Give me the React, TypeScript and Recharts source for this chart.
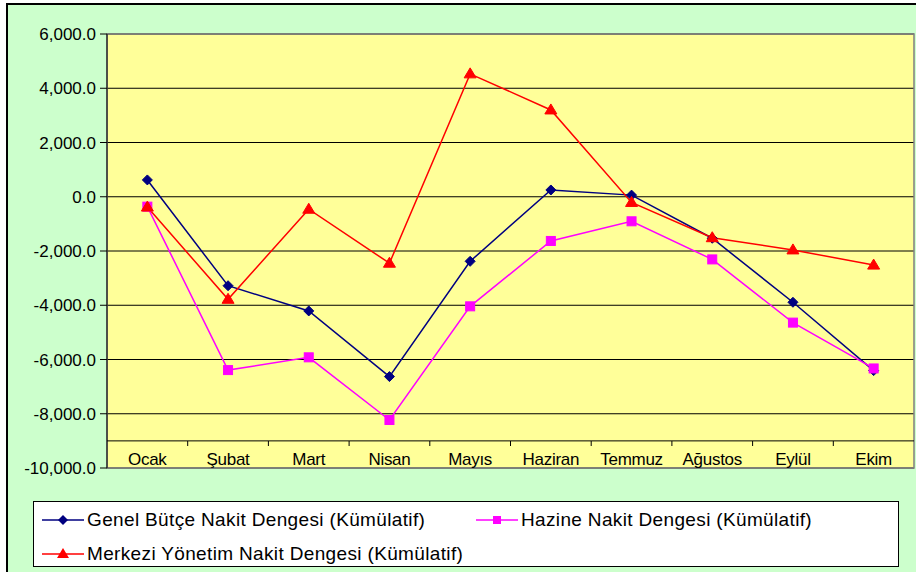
import React from 'react';
import { LineChart, Line, XAxis, YAxis, CartesianGrid, ReferenceLine, ReferenceArea, Legend } from 'recharts';

const months = ['Ocak', 'Şubat', 'Mart', 'Nisan', 'Mayıs', 'Haziran', 'Temmuz', 'Ağustos', 'Eylül', 'Ekim'];
const genelButce = [620, -3280, -4210, -6630, -2380, 250, 60, -1530, -3890, -6410];
const hazine = [-365, -6390, -5920, -8230, -4040, -1630, -905, -2310, -4640, -6330];
const merkezi = [-380, -3780, -460, -2450, 4530, 3200, -210, -1510, -1960, -2520];
const yTicks = [-10000, -8000, -6000, -4000, -2000, 0, 2000, 4000, 6000];

const seriesNames = {
  genel: 'Genel Bütçe Nakit Dengesi (Kümülatif)',
  hazine: 'Hazine Nakit Dengesi (Kümülatif)',
  merkezi: 'Merkezi Yönetim Nakit Dengesi (Kümülatif)',
};

const data = months.map((m, i) => ({ month: m, genel: genelButce[i], hazine: hazine[i], merkezi: merkezi[i] }));

const FONT = '"Liberation Sans", Arial, sans-serif';
const NAVY = '#000080';
const MAGENTA = '#FF00FF';
const RED = '#FF0000';

const fmt = (v: number) => v.toLocaleString('en-US', { minimumFractionDigits: 1, maximumFractionDigits: 1 });

const Diamond = (props: any) => {
  const { cx, cy } = props;
  if (cx == null || cy == null) return null;
  return <polygon points={`${cx},${cy - 5} ${cx + 5},${cy} ${cx},${cy + 5} ${cx - 5},${cy}`} fill={NAVY} stroke={NAVY} strokeWidth={1} />;
};
const Square = (props: any) => {
  const { cx, cy } = props;
  if (cx == null || cy == null) return null;
  return <rect x={cx - 4.5} y={cy - 4.5} width={9} height={9} fill={MAGENTA} stroke={MAGENTA} strokeWidth={1} />;
};
const Triangle = (props: any) => {
  const { cx, cy } = props;
  if (cx == null || cy == null) return null;
  return <polygon points={`${cx},${cy - 6} ${cx + 6},${cy + 4} ${cx - 6},${cy + 4}`} fill={RED} stroke={RED} strokeWidth={1} />;
};

const XTick = (props: any) => {
  const { x, y, payload, index } = props;
  const off = payload && payload.offset ? payload.offset : 0;
  return (
    <g>
      {index > 0 && <line x1={x - off} x2={x - off} y1={y - 27} y2={y - 22} stroke="#000" strokeWidth={1} />}
      <text x={x} y={y - 3} textAnchor="middle" fontFamily={FONT} fontSize={17} fill="#000" style={{ letterSpacing: '-0.3px' }}>
        {payload.value}
      </text>
    </g>
  );
};

const LegendMarker = ({ color, kind }: { color: string; kind: string }) => (
  <svg width={44} height={14} style={{ position: 'absolute', left: 0, top: -7 }}>
    <line x1={1} x2={43} y1={7} y2={7} stroke={color} strokeWidth={1.5} />
    {kind === 'diamond' && <polygon points="22,2 27,7 22,12 17,7" fill={color} />}
    {kind === 'square' && <rect x={18} y={3} width={8} height={8} fill={color} />}
    {kind === 'triangle' && <polygon points="22,1 28,11 16,11" fill={color} />}
  </svg>
);

const LegendItem = ({ left, top, color, kind, label }: any) => (
  <div style={{ position: 'absolute', left, top, height: 0 }}>
    <LegendMarker color={color} kind={kind} />
    <span style={{ position: 'absolute', left: 46, top: -12, whiteSpace: 'nowrap', fontFamily: FONT, fontSize: 19, lineHeight: '24px', color: '#000', letterSpacing: '0.35px' }}>
      {label}
    </span>
  </div>
);

const LegendContent = () => (
  <div style={{ position: 'relative', width: 866, height: 66, background: '#FFFFFF', border: '1px solid #000', boxSizing: 'border-box' }}>
    <LegendItem left={7} top={18} color={NAVY} kind="diamond" label={seriesNames.genel} />
    <LegendItem left={441} top={18} color={MAGENTA} kind="square" label={seriesNames.hazine} />
    <LegendItem left={7} top={52} color={RED} kind="triangle" label={seriesNames.merkezi} />
  </div>
);

export default function App() {
  return (
    <div style={{ position: 'absolute', left: 0, top: 0, width: 916, height: 572, overflow: 'hidden', background: '#FFFFFF' }}>
      <div style={{ position: 'absolute', left: 6, top: 3, width: 930, height: 600, background: '#CCFFCC', borderLeft: '2px solid #000', borderTop: '2px solid #000' }} />
      <div style={{ position: 'absolute', left: 0, top: 0 }}>
        <LineChart width={916} height={572} data={data} margin={{ top: 34, right: 2, left: 0, bottom: 74 }}>
          <CartesianGrid vertical={false} horizontal={true} stroke="#000" strokeOpacity={1} fill="#FFFF99" fillOpacity={1} />
          <ReferenceArea y1={-10000} y2={6000} fill="none" stroke="#808080" strokeWidth={1.5} ifOverflow="visible" />
          <ReferenceLine y={-9000} stroke="#000" strokeWidth={1} />
          <XAxis dataKey="month" scale="band" height={30} axisLine={false} tickLine={false} tickSize={0} tickMargin={0} tick={<XTick />} interval={0} />
          <YAxis
            width={107}
            domain={[-10000, 6000]}
            ticks={yTicks}
            interval={0}
            tickFormatter={fmt}
            axisLine={{ stroke: '#000', strokeWidth: 1 }}
            tickLine={{ stroke: '#000' }}
            tickSize={7}
            tickMargin={4}
            tick={{ fill: '#000', fontSize: 17, fontFamily: FONT }}
          />
          <Line dataKey="genel" name={seriesNames.genel} stroke={NAVY} strokeWidth={1.5} dot={<Diamond />} activeDot={false} isAnimationActive={false} />
          <Line dataKey="hazine" name={seriesNames.hazine} stroke={MAGENTA} strokeWidth={1.5} dot={<Square />} activeDot={false} isAnimationActive={false} />
          <Line dataKey="merkezi" name={seriesNames.merkezi} stroke={RED} strokeWidth={1.5} dot={<Triangle />} activeDot={false} isAnimationActive={false} />
          <Legend layout="horizontal" verticalAlign="middle" align="center" wrapperStyle={{ position: 'absolute', left: 33, top: 501, width: 866, height: 66 }} content={() => <LegendContent />} />
        </LineChart>
      </div>
    </div>
  );
}
